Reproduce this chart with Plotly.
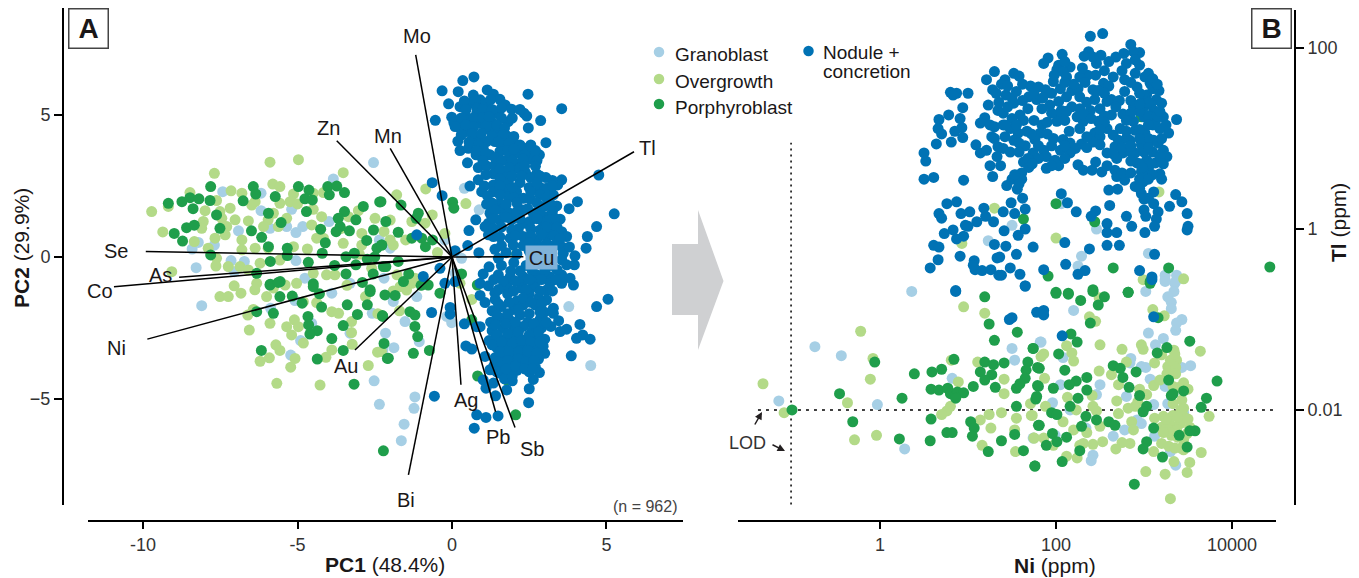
import plotly.graph_objects as go

# ---------- Panel A : PCA scores (PC1, PC2) ----------
a_granoblast = [(-2.54,3.33),(-7.42,2.3),(-6.18,2.25),(-6.18,1.63),(-3.84,2.75),(-5.19,1.68),(-6.91,.92),(-5.89,1.01),(-5.35,1.07),(-5.05,.86),(-4.83,1.07),(-3.98,1.25),(-8.41,.28),(-8.28,-.38),(-8.21,.51),(-7.69,.42),(-7.15,-.13),(-6.72,-.16),(-5.05,-.13),(-4.76,-.75),(-2.35,.6),(-7.05,-.52),(-3.3,-.93),
(-8.1,-1.72),(-5.87,-1.81),(-5.08,-1.54),(-3.89,-1.28),(-4.9,-2.95),(-5.22,-3.46),(-3.3,-2.69),(-4.54,-2.34),(-2.58,-1.99),(-2.15,-2.69),(-2.24,-3.3),(-2.52,-4.37),(-2.35,-5.2),
(-1.2,-4.94),(-1.23,-5.34),(-1.55,-5.9),(-1.64,-6.48),(4.49,-3.83),(3.78,-1.75),(-1.52,-2.28),(-1.88,-3.2),(-1.06,-2.99),(-.17,-2.1),(-.01,-2.32),(-1.9,-1.57),(-1.14,-1.4),
(.4,2.42),(.88,1.66),(-2.0,.31),(.31,-.05),(-2.2,-.75),(.1,-.58),(-.23,.6)]
a_overgrowth = [(-9.72,1.6),(-9.36,.88),(-9.18,1.78),(-7.69,2.95),(-5.89,3.34),(-4.97,3.43),(-3.52,2.97),(-8.48,2.27),(-7.15,2.33),(-6.8,2.25),(-5.8,2.57),(-5.57,2.48),(-5.13,2.22),(-4.16,2.27),(-4.49,2.25),(-7.62,1.99),(-7.18,1.72),(-6.48,1.83),(-6.37,1.95),(-7.99,1.63),(-7.51,1.6),(-7.45,1.36),(-6.59,1.27),(-7.02,1.31),(-7.29,1.07),(-8.05,1.25),(-8.1,1.01),(-5.78,1.54),(-5.95,1.31),(-5.57,1.89),(-5.24,1.95),(-5.0,1.87),(-4.49,1.68),(-5.35,1.36),(-5.62,1.07),(-6.1,1.07),(-4.22,1.42),(-4.54,1.13),(-3.03,1.63),(-2.49,1.36),(-3.35,1.42),(-2.92,.83),(-4.38,.66),(-4.16,.66),(-3.52,.48),(-2.92,.42),(-8.34,.54),(-7.67,.66),(-7.34,.78),(-6.8,.6),(-6.8,.25),(-6.37,.31),(-5.95,.31),(-5.13,.36),(-4.68,.28),(-7.89,.31),(-7.62,-.05),(-7.64,-.32),(-9.07,-.52),(-7.24,-.34),(-6.21,-.22),(-5.57,-.11),(-6.86,-.34),(-6.59,-.46),(-4.06,-.63),(-3.79,-.63),(-4.49,-.58),(-5.03,-.93),(-6.32,-.93),(-7.05,-1.02),
(-7.51,-1.4),(-7.24,-1.4),(-6.83,-1.28),(-6.38,-1.16),(-6.0,-1.4),(-6.43,-1.85),(-6.61,-2.05),(-5.89,-2.34),(-6.56,-2.58),(-5.35,-2.46),(-5.1,-2.22),(-4.97,-2.46),(-5.19,-2.75),(-4.81,-3.04),(-5.7,-3.1),(-5.57,-3.3),(-6.21,-3.68),(-5.91,-3.56),(-5.08,-3.58),(-5.22,-3.89),(-5.67,-4.46),(-4.27,-4.52),(-4.08,-3.54),(-3.89,-3.28),(-3.23,-3.08),(-3.25,-2.67),(-3.25,-2.28),(-2.71,-3.83),(-2.41,-3.36),(-3.89,-1.93),(-3.67,-1.99),(-4.38,-1.61),(-4.81,-1.58),(-5.78,-1.1),(-5.4,-.99),
(-.85,2.4),(-1.79,2.19),(.45,1.88),(-.64,1.48),(-1.3,1.25),(-.87,1.19),(-.23,.83),(-.47,.16),(-1.2,-.75),(-1.9,.42),(-2.0,.6),(-1.78,-.63),(.64,-1.5),(-2.28,-3.34),(-1.47,-1.17),(-1.68,-1.05),(-1.3,-.93),(.26,-.93),
(-3.0,.1),(-2.6,-.4),(-2.2,.9),(-1.5,.6),(-3.4,-1.0),(-2.8,-1.4),(-1.9,-1.2),(-2.4,-2.0),(-1.7,-1.9),(-3.6,1.0),(-2.0,1.3)]
a_porphyroblast = [(-9.18,1.89),(-8.74,1.95),(-8.48,2.09),(-8.19,2.05),(-8.38,1.7),(-7.81,2.48),(-7.83,1.99),(-7.62,1.48),(-8.99,.83),(-8.72,.56),(-8.59,1.03),(-8.34,1.12),(-7.51,1.01),(-6.76,1.98),(-6.43,2.48),(-6.35,2.22),(-5.72,2.13),(-4.97,2.48),(-4.63,2.36),(-4.76,2.05),(-4.52,2.01),(-4.71,1.6),(-4.02,2.48),(-3.73,2.5),(-3.48,2.27),(-3.97,2.19),(-5.94,1.54),(-5.53,1.21),(-6.49,.92),(-6.16,.69),(-4.25,.98),(-3.48,1.6),(-3.68,1.36),(-3.11,1.31),(-3.62,1.07),(-3.75,.89),(-3.32,.92),(-2.87,1.78),(-2.34,1.94),(-2.14,1.25),(-2.54,.95),(-2.76,.58),(-2.43,.31),(-2.27,.42),(-7.81,.07),(-5.94,.36),(-5.88,-.16),(-5.33,.31),(-5.33,.05),(-4.65,-.19),(-4.2,.13),(-3.43,.01),(-3.16,.13),(-3.11,-.28),(-2.74,-.08),(-3.43,-.6),(-2.55,-.6),(-2.14,-.34),(-2.65,-1.16),(-4.49,-.95),(-5.88,-.96),(-5.56,-.87),(-6.32,-.58),
(-5.57,-1.4),(-5.17,-1.38),(-5.89,-.99),(-5.62,-.9),(-4.49,-1.05),(-4.29,-1.3),(-4.85,-1.63),(-4.22,-1.77),(-5.78,-1.99),(-6.32,-1.93),(-4.66,-2.1),(-4.64,-2.4),(-4.36,-2.6),(-4.6,-2.72),(-3.89,-2.88),(-3.39,-1.69),(-3.06,-2.03),(-3.52,-2.42),(-3.52,-3.3),(-6.17,-3.3),(-4.36,-3.6),(-3.17,-4.49),(-2.22,-6.84),(-2.65,-1.22),(-2.74,-1.69),(-2.17,-1.34),(-2.25,-2.07),(-2.2,-3.05),(-2.06,-3.57),
(-1.36,-1.93),(-1.2,-2.05),(-1.2,-2.45),(-1.11,-2.81),(-1.25,-3.4),(-.73,-3.3),(-2.09,-3.58),(-2.24,-2.1),(-1.84,-1.36),(.83,-4.2),(1.77,-4.34),(2.06,-5.57),(-.39,-1.28),(.82,-.99),(.64,-2.22),
(.02,1.93),(.06,1.72),(-1.65,1.83),(-1.09,1.54),(-1.16,1.36),(-1.74,.87),(-1.3,.66),(-.98,.66),(-.63,.6),(-.86,.36),(-2.28,.42),(-2.3,1.95),(-1.74,-.16),(-2.22,-.34),(-1.57,-.87),(-.77,-.99),(.31,-.6),(2.09,.1),
(-2.9,-.9),(-1.4,-.6),(-1.0,-1.0),(-3.8,-.3),(-4.1,.5),(-2.5,.0)]
a_nodule = [(.71,6.35),(.35,6.22),(-.32,5.86),(.2,5.83),(1.14,5.89),(2.46,5.74),(3.55,5.23),(-.11,5.4),(.69,5.71),(1.34,5.74),(1.55,5.56),(.91,5.54),(.26,5.3),(.58,5.42),(1.1,5.42),(1.72,5.36),(1.93,5.21),(2.33,5.07),(2.42,4.97),(2.87,4.81),(-.54,4.82),(-.01,4.93),(.06,4.74),(.8,5.07),(1.12,5.13),(1.45,5.07),(1.82,4.77),(2.47,4.55),(.26,4.54),(.53,4.89),(.91,4.71),(1.28,4.77),(.47,4.42),(1.23,4.48),(1.5,4.36),(1.77,4.27),(3.04,4.03),(.19,4.08),(.85,4.19),(1.12,4.07),(2.04,3.99),(.26,3.75),(.53,3.83),(1.01,3.83),(1.39,4.07),(1.66,4.01),(2.33,3.83),(.78,3.6),(.5,3.32),(1.23,3.6),(1.55,3.72),(1.93,3.6),
(2.15,3.66),(2.58,3.72),(2.83,3.6),(.85,3.15),(1.12,3.21),(1.39,3.25),(1.77,3.42),(2.2,3.3),(2.52,3.45),(1.34,2.93),(1.68,2.89),(2.09,3.13),(2.38,2.97),(2.74,2.93),(3.04,2.8),(3.55,2.72),(3.42,2.54),(.85,2.72),(.58,2.5),(1.34,2.54),(1.82,2.66),(2.2,2.62),(2.85,2.45),(.96,2.3),(1.34,2.3),(1.77,2.36),(2.09,2.3),(3.06,2.42),(3.28,2.19),(4.06,1.95),(3.79,1.7),(3.39,1.8),(1.12,1.86),(1.55,1.89),(1.82,2.13),(2.31,2.07),(2.55,2.03),(3.01,1.8),(1.23,1.54),(1.61,1.66),(2.25,1.66),(2.63,1.54),(3.06,1.42),(3.5,1.33),(.77,1.31),(1.18,1.19),(1.55,1.31),(1.93,1.31),(2.52,1.25),(2.96,1.19),(3.28,1.07),(1.07,1.07),(.55,.93),(1.93,.95),(2.36,1.19),(3.17,.89),(3.55,.89),(1.34,.72),(1.18,.78),(1.88,.66),(2.31,.72),(2.74,.6),(3.06,.72),(3.71,.72),(4.38,.72),(4.68,1.07),(5.25,1.52),(4.75,2.89),(.51,.4),(1.98,.42),(3.06,.48),(3.55,.36),(4.34,.31),(.1,.22),(.87,.15),(1.39,.27),(1.5,-.05),(3.6,.13),(3.98,.04),(3.55,-.1),(3.71,-.28),(3.96,-.28),(-.64,2.62),(-.32,2.16),(-1.14,.78),
(1.01,-.6),(1.5,-.63),(1.88,-.7),(2.31,-.7),(2.74,-.63),(3.17,-.7),(3.55,-.63),(3.82,-.75),(3.93,-.99),(-.93,-.69),(-.39,-.4),(-.23,-.93),(.1,-.87),(.91,-.93),(1.18,-1.02),(1.77,-1.02),(2.25,-.99),(2.69,-.93),(3.17,-.93),(3.55,-.93),
(.91,-1.36),(1.07,-1.61),(1.39,-1.28),(1.77,-1.05),(2.25,-1.1),(2.63,-1.05),(3.06,-1.17),(3.06,-1.51),(3.28,-1.81),(3.28,-1.99),(3.45,-2.25),(4.68,-1.75),(5.05,-1.49),(4.14,-2.38),(4.23,-2.75),(4.03,-2.87),(4.47,-2.9),(3.71,-2.55),(3.5,-2.63),(3.86,-3.49),(-.66,-1.96),(-.06,-2.02),(-.06,-1.78),(.4,-2.36),(.8,-2.46),(.91,-2.46),(.45,-3.14),(.64,-3.25),(1.07,-3.51),(1.23,-3.98),(1.01,-4.34),(1.1,-4.63),(1.34,-4.45),(1.77,-4.69),(1.41,-4.9),(2.5,-4.65),(2.63,-4.32),(2.83,-4.08),(2.48,-5.14),(1.95,-4.37),(-.57,-4.91),(.8,-5.57),(1.1,-5.66),(1.49,-5.61),(.72,-6.04),
(1.4,-1.5),(1.8,-1.3),(2.1,-1.55),(2.5,-1.3),(2.8,-1.45),(1.3,-1.9),(1.6,-1.75),(2.0,-1.85),(2.3,-1.7),(2.7,-1.7),(3.0,-1.95),(1.25,-2.3),(1.55,-2.15),(1.85,-2.2),(2.2,-2.05),(2.45,-2.3),(2.85,-2.2),(3.2,-2.45),(1.3,-2.6),(1.65,-2.5),(2.0,-2.55),(2.3,-2.45),(2.6,-2.6),(2.9,-2.5),(1.2,-2.95),(1.5,-2.85),(1.8,-2.9),(2.1,-2.8),(2.4,-2.9),(2.75,-2.85),(3.0,-2.9),(1.45,-3.2),(1.75,-3.15),(2.05,-3.2),(2.35,-3.1),(2.65,-3.25),(2.95,-3.15),(3.0,-3.4),(1.4,-3.55),(1.7,-3.5),(2.0,-3.45),(2.3,-3.55),(2.55,-3.5),(2.8,-3.6),(1.35,-3.85),(1.65,-3.85),(1.95,-3.8),(2.25,-3.75),(2.5,-3.8),(2.7,-3.9),(1.55,-4.1),(1.85,-4.1),(2.1,-4.0),(2.5,-4.05),(1.7,-4.3),(1.95,-4.2),
(1.2,-.35),(1.6,-.3),(2.0,-.2),(2.4,-.3),(2.8,-.2),(3.2,-.3),(1.9,-.5),(2.2,-.5),(2.6,-.5),(3.0,-.5),(3.4,-.45),(2.1,.1),(2.5,.2),(2.9,.1),(3.2,.15),(2.3,.4),(2.7,.3),(1.75,.15),
(.4,5.5),(.75,5.5),(1.25,5.55),(.45,5.2),(.8,5.25),(1.0,5.2),(1.3,5.2),(1.6,5.25),(2.2,5.2),(.3,4.9),(.7,4.9),(1.0,4.9),(1.2,4.95),(1.6,4.9),(1.95,4.9),(.1,4.6),(.45,4.65),(.7,4.6),(1.1,4.6),(1.45,4.65),(1.7,4.55),(.3,4.3),(.65,4.35),(.95,4.35),(1.3,4.25),(1.65,4.3),(2.0,4.25),(.55,4.05),(.85,3.95),(1.5,4.05),(1.85,4.0),(2.2,3.95),(2.55,3.95),(.8,3.75),(1.1,3.65),(1.8,3.75),(2.0,3.8),(2.35,3.6),(2.7,3.75),(1.0,3.4),(1.4,3.5),(1.6,3.4),(1.95,3.4),(2.3,3.45),(2.75,3.4),(1.55,3.1),(1.85,3.15),(2.35,3.2),(2.7,3.2),(1.1,2.9),(1.55,2.75),(1.95,2.85),(2.25,2.85),(2.55,2.8),(2.85,2.85),(3.25,2.7),(1.05,2.5),(1.55,2.5),(1.95,2.45),(2.5,2.45),(2.75,2.6),(3.25,2.5),(1.15,2.15),(1.55,2.2),(2.0,2.1),(2.55,2.3),(2.85,2.2),(3.05,2.1),(1.3,1.9),(1.75,1.85),(2.1,1.9),(2.75,1.9),(3.2,1.85),(1.4,1.65),(1.85,1.55),(2.1,1.6),(2.45,1.7),(2.85,1.6),(3.25,1.6),(1.35,1.35),(1.75,1.4),(2.2,1.35),(2.75,1.35),(3.15,1.3),(3.35,1.35),(1.35,1.0),(1.6,1.05),(2.15,1.0),(2.55,1.0),(2.85,.95),(3.05,1.05),(3.4,1.05),(1.55,.7),(2.05,.75),(2.55,.75),(2.9,.8),(3.3,.75),(3.5,.65),(1.6,.4),(2.5,.5),(2.9,.35),(3.3,.4),(3.8,.35),
(1.35,-.8),(1.65,-.85),(2.05,-.85),(2.5,-.8),(2.9,-.8),(3.35,-.8),(1.5,-1.15),(2.0,-1.2),(2.4,-1.15),(2.85,-1.2),(3.25,-1.2),(1.5,-1.65),(1.85,-1.6),(2.3,-1.45),(2.55,-1.6),(2.9,-1.65),(1.45,-2.05),(1.8,-2.0),(2.15,-1.85),(2.5,-2.0),(2.85,-1.95),(1.4,-2.4),(1.75,-2.35),(2.05,-2.3),(2.65,-2.35),(3.05,-2.3),(1.45,-2.75),(1.8,-2.7),(2.15,-2.65),(2.5,-2.75),(2.8,-2.65),(1.3,-3.1),(1.6,-3.0),(1.95,-3.05),(2.25,-2.95),(2.55,-3.0),(2.85,-3.0),(1.55,-3.35),(1.85,-3.35),(2.15,-3.35),(2.45,-3.3),(2.75,-3.4),(1.5,-3.7),(1.8,-3.65),(2.15,-3.6),(2.4,-3.7),(2.65,-3.65),(1.45,-4.05),(1.75,-3.95),(2.05,-3.85),(2.35,-3.95),(2.6,-3.95)]

# Loading vectors
loading_names = ["Mo","Zn","Mn","Tl","Cu","Se","As","Co","Ni","Au","Bi","Ag","Pb","Sb"]
loading_x = [-1.175,-3.73,-2.0,5.89,2.31,-9.91,-8.83,-10.94,-9.86,-3.14,-1.41,.29,1.41,2.04]
loading_y = [7.125,4.10,3.83,3.71,.01,.19,-.72,-1.05,-2.90,-3.28,-7.69,-4.51,-5.46,-6.02]

# ---------- Panel B : log10(Ni ppm), log10(Tl ppm) ----------
b_granoblast = [(1.5,.04),(2.06,.28),(2.46,0),(2.29,-.3),(2.25,-.41),(3.05,-.27),(3.24,-.51),(3.24,-.56),(3.37,-.51),(3.35,-.6),(1.23,-.13),
(.36,-.69),(-.74,-1.3),(-.44,-1.4),(-1.15,-1.9),(-.03,-1.94),(.28,-2.43),(.82,-1.65),(1.5,-1.32),(1.53,-1.45),(1.82,-1.25),
(3.02,-.69),(3.24,-.58),(3.36,-.58),(3.34,-.69),(3.27,-.75),(3.31,-.81),(3.31,-.88),(2.2,-.9),(3.43,-1.0),(3.37,-1.04),(3.36,-1.12),(3.05,-1.15),(3.22,-1.21),(3.13,-1.28),(1.83,-1.25),(2.08,-1.42),(2.85,-1.43),(2.84,-1.48),(2.97,-1.52),(3.02,-1.53),(3.43,-1.53),(3.53,-1.51),(2.05,-1.72),(2.5,-1.72),(2.46,-1.83),(3.07,-1.66),(3.24,-1.74),(2.8,-1.85),(1.96,-1.92),(2.16,-2.0),(3.11,-1.94),(3.27,-1.93),(3.45,-2.03),(2.97,-2.15),(2.78,-2.22),(2.65,-2.29),(3.12,-2.29),(2.34,-2.2),(1.99,-2.28),(2.42,-2.5),(2.4,-2.56),(3.3,-2.46),(3.36,-2.61),(2.92,-2.11),(1.74,-2.31)]
b_overgrowth = [(2.0,-.1),(3.17,.41),(2.99,-.56),(3.45,-.55),(1.3,.23),(.93,-.16),
(.95,-.86),(1.19,-.93),(-.22,-1.13),(-.08,-1.43),(.81,-1.45),(.89,-1.69),(1.11,-1.47),(-.11,-1.66),(1.41,-1.66),(1.41,-1.82),(-1.33,-1.71),(-1.09,-2.03),(-.37,-1.92),(-.29,-2.33),(-.04,-2.28),(.8,-1.96),(.76,-2.01),(.7,-2.05),(1.38,-2.03),(1.24,-2.05),(1.14,-2.11),(1.26,-2.2),(1.55,-2.09),(1.73,-2.06),(1.53,-2.22),(1.75,-2.31),(1.16,-2.39),(1.54,-2.46),(1.71,-1.93),(1.83,-1.41),
(2.49,-.76),(3.1,-.89),(3.23,-.96),(2.38,-.97),(2.45,-1.02),(2.5,-1.28),(2.12,-1.29),(1.86,-1.38),(2.18,-1.37),(2.2,-1.46),(2.75,-1.33),(2.97,-1.28),(2.99,-1.33),(3.34,-1.34),(3.64,-1.35),(3.2,-1.39),(3.12,-1.48),(2.8,-1.47),(3.37,-1.45),(3.27,-1.52),(3.36,-1.53),(2.49,-1.57),(2.63,-1.61),(3.26,-1.6),(3.36,-1.6),(1.87,-1.65),(2.71,-1.72),(3.11,-1.73),(3.18,-1.67),(3.33,-1.74),(3.5,-1.77),(2.95,-1.77),(3.03,-1.83),(2.41,-1.84),(2.13,-1.86),(2.69,-1.9),(3.43,-1.89),(2.93,-1.91),(1.88,-1.96),(2.42,-1.96),(2.9,-1.96),(2.46,-2.01),(2.23,-2.0),(1.72,-2.06),(2.71,-2.04),(2.82,-1.98),(3.33,-1.93),(3.45,-1.98),(3.74,-2.07),(2.08,-2.13),(2.86,-2.13),(3.12,-2.09),(3.22,-2.07),(3.33,-2.06),(3.45,-2.07),(2.5,-2.18),(2.2,-2.22),(2.88,-2.22),(2.35,-2.25),(3.2,-2.19),(3.31,-2.17),(3.41,-2.15),(3.52,-2.19),(1.75,-2.31),(1.86,-2.31),(1.97,-2.39),(2.31,-2.37),(2.42,-2.38),(2.53,-2.35),(2.84,-2.37),(2.75,-2.36),(3.2,-2.37),(3.31,-2.28),(3.45,-2.33),(3.26,-2.2),(3.37,-2.22),(3.49,-2.26),(2.68,-2.43),(3.11,-2.46),(2.12,-2.51),(2.24,-2.53),(3.45,-2.44),(3.65,-2.47),(3.34,-2.57),(3.52,-2.58),(3.02,-2.68),(3.24,-2.71),(3.49,-2.69),(3.3,-2.98),(2.27,-2.39),
(3.25,-2.1),(3.3,-2.25),(3.38,-2.3),(3.28,-2.4),(3.42,-2.42),(3.35,-2.42),(3.22,-2.25),(3.5,-2.1),(3.4,-1.75),(3.45,-1.7),(3.3,-1.45),(3.35,-1.38),(3.42,-2.0),(3.38,-2.08)]
b_porphyroblast = [(4.43,-.42),(2.0,.28),(2.44,.08),(1.63,.11),(2.65,-.43),(3.28,-.43),(1.91,-.52),(3.07,-.6),(2.0,-.7),(2.14,-.71),(2.42,-.67),(2.82,-.7),(2.97,1.24),
(1.19,-.75),(1.24,-1.05),(1.56,-1.14),(1.3,-1.23),(1.74,-1.32),(.84,-1.44),(-.06,-1.47),(.39,-1.6),(.59,-1.58),(.7,-1.55),(1.19,-1.47),(1.29,-1.5),(1.41,-1.48),(1.68,-1.47),(1.79,-1.53),(1.14,-1.58),(1.27,-1.61),(1.19,-1.67),(1.31,-1.75),(1.06,-1.74),(1.66,-1.56),(1.65,-1.65),(1.55,-1.76),(1.59,-1.71),(1.79,-1.73),(.58,-1.77),(.67,-1.78),(.77,-1.76),(.8,-1.82),(.88,-1.8),(.95,-1.81),(.86,-1.87),(-.46,-1.82),(.25,-1.87),(-1.0,-2.0),(-.31,-2.13),(.58,-2.1),(1.55,-1.96),(1.77,-1.88),(1.03,-2.13),(1.07,-2.2),(1.05,-2.29),(.22,-2.32),(.57,-2.34),(.76,-2.25),(.82,-2.25),(1.38,-2.34),(1.23,-2.46),(1.53,-2.27),(1.63,-2.45),(1.76,-2.62),(1.8,-2.17),
(2.0,-.71),(2.14,-.72),(2.28,-.79),(2.42,-.69),(2.55,-.75),(2.48,-.84),(2.82,-.7),(3.07,-.58),(3.16,-.98),(2.39,-1.04),(2.17,-1.16),(2.24,-1.25),(3.52,-1.24),(3.26,-1.31),(3.15,-1.37),(1.74,-1.32),(2.03,-1.38),(1.81,-1.54),(2.1,-1.56),(2.65,-1.51),(2.73,-1.54),(2.91,-1.58),(2.76,-1.64),(2.35,-1.64),(2.23,-1.68),(2.15,-1.72),(3.28,-1.67),(3.83,-1.68),(1.8,-1.74),(1.97,-1.76),(2.35,-1.78),(2.83,-1.75),(3.45,-1.79),(3.71,-1.87),(1.78,-1.85),(2.25,-1.87),(2.95,-1.84),(3.31,-1.84),(2.16,-1.96),(3.03,-1.96),(3.65,-1.97),(2.99,-2.02),(1.95,-2.03),(2.01,-2.05),(2.34,-2.07),(2.6,-2.13),(2.67,-2.17),(1.81,-2.17),(2.29,-2.18),(2.46,-2.11),(3.11,-2.2),(3.58,-2.23),(3.52,-2.23),(1.96,-2.26),(3.4,-2.28),(2.12,-2.3),(2.01,-2.35),(1.89,-2.39),(3.03,-2.35),(2.99,-2.43),(2.27,-2.45),(3.21,-2.52),(2.07,-2.57),(1.76,-2.62),(2.89,-2.82),(3.49,-2.41),(3.33,-1.82)]
b_nodule = [(.5,.84),(.52,.75),(.5,.55),(.61,.57),(.95,.54),(.8,1.51),(.87,1.5),(.83,1.48),(1.0,1.5),(.94,1.34),(.78,1.26),(.67,1.21),(.66,1.11),(.7,1.05),(.91,1.22),(.93,1.12),(.85,1.08),(.94,1.01),(.81,.96),(.64,.94),(1.21,1.65),(1.3,1.74),(1.28,1.54),(1.23,1.37),(1.19,1.23),(1.14,1.17),(1.25,1.15),(1.34,1.31),(1.3,1.13),(1.09,.93),(1.14,.84),(1.21,.87),(1.27,1.02),(1.34,.91),(1.25,.7),(1.28,.58),
(.76,.28),(.87,.3),(.67,.17),(.7,.12),(.92,.17),(1.02,.19),(1.18,.23),(.97,.04),(1.1,.08),(1.0,.03),(1.29,.08),(1.2,.14),(.73,-.05),(.83,-.01),(.87,-.11),(.95,-.08),(.61,-.18),(.67,-.2),(.66,-.34),(.57,-.43),(.91,-.3),(1.3,-.17),(1.07,-.35),(1.08,-.45),(1.16,-.46),(1.26,-.45),(1.33,-.32),(1.35,-.51),(1.06,-.4),(.86,-.68),
(2.53,2.16),(2.39,2.13),(2.85,2.04),(2.95,1.95),(2.88,1.96),(2.77,1.94),(2.68,1.9),(2.51,1.92),(2.37,1.96),(2.32,1.91),(2.07,1.93),(1.91,1.89),(1.86,1.83),(2.16,1.79),(2.03,1.81),(2.01,1.76),(2.08,1.74),(2.46,1.83),(2.95,1.81),(2.8,1.83),(2.55,1.75),(2.65,1.68),(2.12,1.68),(2.36,1.7),(2.27,1.68),(1.97,1.63),(2.78,1.65),(3.01,1.68),(2.54,1.61),(1.52,1.72),(1.58,1.69),(1.42,1.65),(1.71,1.58),(1.8,1.57),(1.88,1.54),(2.18,1.53),(2.25,1.55),(2.42,1.54),(2.78,1.52),(2.92,1.57),(3.07,1.61),(3.17,1.53),(1.55,1.52),(1.43,1.48),(1.69,1.46),(1.78,1.43),(2.03,1.41),(1.93,1.37),(2.27,1.46),(2.44,1.43),(2.63,1.43),(2.58,1.41),(3.03,1.48),(3.14,1.43),(3.2,1.39),(2.88,1.35),(3.0,1.35),(1.52,1.39),(1.84,1.33),(2.06,1.31),(2.18,1.35),(2.27,1.33),(2.39,1.31),(2.5,1.33),(3.11,1.31),(3.37,1.21),(1.4,1.28),(1.59,1.26),(2.03,1.26),(2.24,1.24),(2.63,1.26),(2.76,1.27),(3.0,1.24),(3.22,1.24),(1.63,1.2),(2.01,1.19),(2.31,1.19),(2.48,1.19),(2.88,1.19),(3.13,1.19),(1.84,1.15),(2.27,1.11),(2.58,1.11),(2.73,1.11),(2.9,1.09),(3.18,1.11),(1.48,1.11),(1.67,1.08),(1.82,1.06),(2.44,1.06),(3.28,1.06),(3.01,1.06),(1.57,1.06),(1.42,1.02),(1.97,1.0),(2.08,.99),(1.76,.99),(2.5,1.02),(2.42,.96),(2.71,.98),(2.84,.98),(3.11,.98),(1.52,.98),(1.65,.92),(2.16,.95),(2.29,.94),(3.16,.95),(2.67,.91),(2.97,.93),(1.4,.89),(1.48,.85),(1.86,.87),(2.05,.87),(2.22,.89),(2.58,.84),(2.76,.84),(2.9,.84),(3.22,.87),(1.74,.84),(2.16,.84),(1.63,.74),(1.89,.8),(1.99,.76),(2.69,.78),(3.26,.8),(3.03,.76),(2.92,.73),(3.13,.73),(2.25,.71),(2.45,.74),(2.03,.7),(1.89,.67),(1.69,.68),(2.31,.65),(2.41,.65),(2.52,.63),(2.67,.65),(2.97,.63),(3.18,.61),(1.61,.62),(1.5,.55),(1.44,.48),(1.61,.55),(2.78,.54),(2.69,.58),(2.99,.52),(2.9,.47),(2.7,.44),(2.6,.43),(2.97,.39),(3.11,.41),(3.36,.38),(1.56,.44),(2.06,.39),(3.05,.34),(1.49,.29),(1.62,.34),(3.43,.3),(2.13,.29),(3.11,.28),(3.29,.25),(2.61,.26),(1.65,.22),(3.0,.21),(3.16,.19),(1.53,.17),(1.4,.19),(2.45,.2),(2.23,.19),(3.49,.17),(2.8,.14),(3.02,.14),(2.4,.14),(3.14,.11),(2.86,.03),(2.58,.06),(3.12,.03),(3.5,.03),(2.58,-.04),(2.69,-.04),(3.01,-.04),(1.41,-.02),(1.65,0),(3.49,-.01),(1.57,-.07),(2.58,-.18),(2.72,-.18),(2.1,-.15),(1.74,-.2),(1.43,-.19),(2.38,-.22),(1.55,-.28),(3.12,-.28),(2.11,-.39),(1.48,-.43),(1.86,-.45),(2.95,-.46),(1.59,-.5),(2.25,-.5),(2.33,-.46),(3.09,-.53),(1.65,-.63),(1.36,-.31),(1.38,-.51),
(1.38,1.6),(1.35,1.4),(1.32,1.5),(1.4,1.15),(1.3,1.0),(1.33,.8),(1.37,.7),(3.05,1.25),(3.1,1.15),(3.0,1.45),(3.08,1.38),(3.15,1.25),(2.95,1.3),(2.95,1.1),(3.05,1.0),(3.0,.85),(3.1,.85),(2.95,.72),(3.05,.65),(3.1,.6),(2.95,.55),(2.85,.85),(2.8,1.0),
(.86,-.69),(1.65,-.63),(1.5,-.98),(1.47,-1.0),(1.78,-.92),(1.86,-.9),(1.86,-.95),(2.07,-1.18),(3.11,-.97),(3.09,-.56),
(1.45,1.58),(1.62,1.6),(1.75,1.5),(1.95,1.5),(2.05,1.55),(2.33,1.62),(2.48,1.53),(2.6,1.58),(2.85,1.62),(2.95,1.5),(3.1,1.55),(1.5,1.45),(1.62,1.42),(1.85,1.45),(2.12,1.46),(2.35,1.4),(2.55,1.5),(2.72,1.42),(2.85,1.42),(3.05,1.4),(1.45,1.35),(1.68,1.33),(1.95,1.28),(2.12,1.3),(2.32,1.26),(2.55,1.25),(2.68,1.35),(2.85,1.28),(2.95,1.38),(3.18,1.3),(1.5,1.22),(1.75,1.2),(1.9,1.18),(2.1,1.2),(2.4,1.22),(2.55,1.18),(2.8,1.2),(3.05,1.15),(3.25,1.15),(1.42,1.15),(1.55,1.15),(1.72,1.05),(1.9,1.05),(2.15,1.08),(2.35,1.02),(2.5,1.1),(2.65,1.04),(2.8,1.08),(2.95,1.0),(3.2,1.0),(1.58,.95),(1.8,.92),(1.95,.92),(2.1,.92),(2.35,.9),(2.5,.93),(2.75,.9),(2.85,.92),(3.05,.9),(1.58,.85),(1.8,.78),(1.68,.78),(2.1,.78),(2.65,.83),(2.85,.75),(3.18,.8),(3.08,.72),(2.98,.68),(3.22,.72),(1.73,.72),(1.95,.7),(2.58,.7),(2.75,.62),(2.85,.62),(3.05,.55),(2.95,.45),(3.0,.33),(1.58,.5),(1.53,.6),(3.2,.55),(1.98,1.7),(2.2,1.6),(2.1,1.62),(2.45,1.7),(2.75,1.75),(2.9,1.72),(2.9,1.87),(3.05,1.72),(3.1,1.66),(3.15,1.6),(2.3,1.78),(2.6,1.85),(2.42,1.9),(2.1,1.85)]

lod_ni = 0.0975
lod_tl = 0.01

series_names = ["Granoblast","Overgrowth","Porphyroblast","Nodule + concretion"]
series_colors = ["#A6CFE5","#B3DA88","#1F9E4B","#0072B4"]

FONT = "Liberation Sans"
INK = "#1A1718"
W, H = 1359, 578
def X(p): return p / W
def Y(p): return 1 - p / H

fig = go.Figure()

# Panel A points
for nm, col, pts in zip(series_names, series_colors, [a_granoblast, a_overgrowth, a_porphyroblast, a_nodule]):
    fig.add_trace(go.Scatter(x=[p[0] for p in pts], y=[p[1] for p in pts], mode="markers", name=nm,
                             marker=dict(color=col, size=11, line=dict(width=0)), xaxis="x", yaxis="y",
                             showlegend=False))
# Loading vectors
for nm, lx, ly in zip(loading_names, loading_x, loading_y):
    fig.add_trace(go.Scatter(x=[0, lx], y=[0, ly], mode="lines", name=nm, showlegend=False,
                             line=dict(color="#000000", width=1.5), xaxis="x", yaxis="y"))
# Panel B points
for nm, col, pts in zip(series_names, series_colors, [b_granoblast, b_overgrowth, b_porphyroblast, b_nodule]):
    fig.add_trace(go.Scatter(x=[10 ** p[0] for p in pts], y=[10 ** p[1] for p in pts], mode="markers", name=nm,
                             marker=dict(color=col, size=11, line=dict(width=0)), xaxis="x2", yaxis="y2",
                             showlegend=False))

ax_common = dict(showgrid=False, zeroline=False, showline=True, linecolor="#000000", linewidth=2,
                 ticks="outside", tickcolor="#000000", tickfont=dict(family=FONT, size=18, color="#333333"))

fig.update_layout(
    width=W, height=H, margin=dict(l=0, r=0, t=0, b=0), autosize=False,
    paper_bgcolor="#FFFFFF", plot_bgcolor="rgba(0,0,0,0)", showlegend=False,
    font=dict(family=FONT, size=18, color=INK),
    xaxis=dict(domain=[X(88), X(683)], range=[-11.78, 7.476], anchor="free", position=Y(521),
               tickvals=[-10, -5, 0, 5], ticktext=["-10", "-5", "0", "5"], ticklen=7, tickwidth=1.5, **ax_common),
    yaxis=dict(domain=[Y(505), Y(8)], range=[-8.75, 8.78], anchor="free", position=X(63),
               tickvals=[-5, 0, 5], ticktext=["\u22125", "0", "5"], ticklen=8, tickwidth=2, **ax_common),
    xaxis2=dict(domain=[X(738), X(1276)], range=[-1.614, 4.5], type="log", anchor="free", position=Y(521),
                tickvals=[1, 100, 10000], ticktext=["1", "100", "10000"], ticklen=7, tickwidth=1.5, **ax_common),
    yaxis2=dict(domain=[Y(505), Y(10)], range=[-3.05, 2.42], type="log", anchor="free", position=X(1295), side="right",
                tickvals=[0.01, 1, 100], ticktext=["0.01", "1", "100"], ticklen=8, tickwidth=2, **ax_common),
)

shapes = [
    # grey arrow between panels
    dict(type="path", xref="paper", yref="paper", layer="below", line=dict(width=0), fillcolor="#CFD0D2",
         path="M {} {} L {} {} L {} {} L {} {} L {} {} L {} {} L {} {} Z".format(
             X(672), Y(244), X(698), Y(244), X(698), Y(210), X(723.5), Y(281), X(698), Y(350), X(698), Y(315), X(672), Y(315))),
    # limits of detection
    dict(type="line", xref="x2", yref="y2", x0=0.041, x1=31000, y0=lod_tl, y1=lod_tl, layer="below",
         line=dict(color="#000000", width=1.3, dash="3px,5px")),
    dict(type="line", xref="x2", yref="y2", x0=lod_ni, x1=lod_ni, y0=0.0009, y1=9, layer="below",
         line=dict(color="#000000", width=1.5, dash="2px,4px")),
]
# legend glyphs
for col, cx, cy in zip(series_colors, [659, 659, 659, 808.5], [52, 79, 104, 51]):
    shapes.append(dict(type="circle", xref="paper", yref="paper", line=dict(width=0), fillcolor=col,
                       x0=X(cx - 5.25), x1=X(cx + 5.25), y0=Y(cy + 5.25), y1=Y(cy - 5.25)))
fig.update_layout(shapes=shapes)

def label(text, px, py, size=18, color=INK, xanchor="center", angle=0, **kw):
    fig.add_annotation(text=text, x=X(px), y=Y(py), xref="paper", yref="paper", showarrow=False,
                       xanchor=xanchor, yanchor="middle", textangle=angle,
                       font=dict(family=FONT, size=size, color=color), **kw)

loading_labels = {"Mo":(417,36),"Zn":(328,128),"Mn":(388,136),"Tl":(647,148),"Se":(116,251),"As":(160,275),
                  "Co":(100,291),"Ni":(116,348),"Au":(346,366),"Bi":(406,500),"Ag":(466,400),"Pb":(498,437),"Sb":(532,449)}
label("Cu", 541, 257, size=20, bgcolor="#7FB2D9", width=31, height=23, borderpad=0)
for nm, (px, py) in loading_labels.items():
    label(nm, px, py, size=20)

label("(n = 962)", 679, 506, size=16, color="#444444", xanchor="right")
label("<b>PC1</b> (48.4%)", 385, 564, size=21)
label("<b>PC2</b> (29.9%)", 21, 248, size=21, angle=-90)
label("<b>Ni</b> (ppm)", 1055, 565, size=21)
label("<b>Tl</b> (ppm)", 1338, 223, size=21, angle=-90)

for t, py in zip(series_names[:3], [54.5, 82, 107]):
    label(t, 672.5, py, size=19, xanchor="left")
label("Nodule +", 820.5, 53, size=19, xanchor="left")
label("concretion", 820.5, 71, size=19, xanchor="left")

for t, cx in [("A", 88), ("B", 1271)]:
    label("<b>%s</b>" % t, cx, 28.5, size=28, color=INK, width=38, height=38,
          bordercolor="#444444", borderwidth=1.5, borderpad=0, bgcolor="#FFFFFF")

label("LOD", 747, 443, size=18, color="#333333")
for x0, y0, x1, y1 in [(754, 426, 762, 412), (771, 444, 785, 451)]:
    fig.add_annotation(x=X(x1), y=Y(y1), xref="paper", yref="paper", ax=x0 - x1, ay=y0 - y1, axref="pixel", ayref="pixel",
                       text="", showarrow=True, arrowhead=2, arrowsize=1, arrowwidth=1.5, arrowcolor="#231F20")

fig.write_html("out.html", config=dict(displayModeBar=False),
               post_script="document.body.style.margin='0';document.body.style.overflow='hidden';")
